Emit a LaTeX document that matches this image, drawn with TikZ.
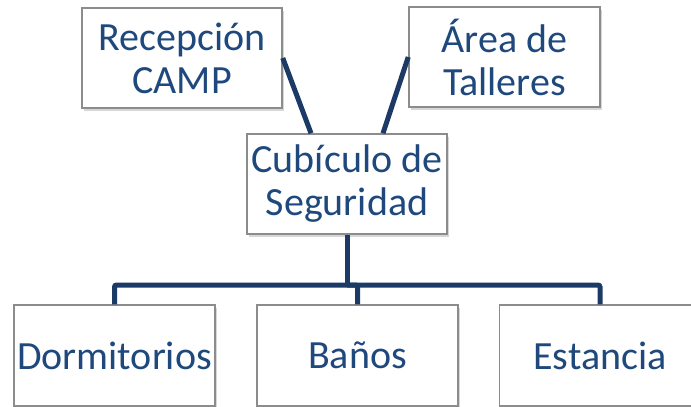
\documentclass[tikz,border=0pt]{standalone}
\usepackage{fontspec}
\setmainfont{Carlito}
\usetikzlibrary{shadows}
\definecolor{txtblue}{HTML}{1F497D}
\definecolor{linknavy}{HTML}{1C3A66}
\definecolor{boxgray}{HTML}{8C8C8C}

\begin{document}
\begin{tikzpicture}[x=1pt, y=-1pt, align=center,
	area/.style = {draw=boxgray, line width=1.5pt, fill=white, text=txtblue,
		minimum width=200pt, minimum height=100pt, inner sep=0pt,
		font=\fontsize{40}{43}\selectfont,
		drop shadow={shadow xshift=2pt, shadow yshift=-3pt, opacity=0.35, fill=black!45}},
	link/.style = {draw=linknavy, line width=5pt, rounded corners=2pt}]
	\useasboundingbox (0,0) rectangle (691,407);
	\node[area] (recep) at (182,58) {Recepción\\CAMP};
	\node[area, minimum width=191pt] (talleres) at (504.5,57) {Área de\\Talleres};
	\node[area] (cub) at (347,184) {Cubículo de\\Seguridad};
	\node[area, minimum width=201pt, minimum height=101pt] (dorm) at (114.5,355.5) {Dormitorios};
	\node[area, minimum width=201pt, minimum height=101pt] (banos) at (357.5,355.5) {Baños};
	\node[area, minimum width=201pt, minimum height=101pt] (estancia) at (600,355.5) {Estancia};
	\coordinate (bus) at (347,285);
	\draw[link] (recep.east) -- ([xshift=-36pt]cub.north);
	\draw[link] (talleres.west) -- ([xshift=36pt]cub.north);
	\draw[link] (cub.south) -- (bus);
	\draw[link] (bus) -| (dorm.north);
	\draw[link] (bus) -| (banos.north);
	\draw[link] (bus) -| (estancia.north);
\end{tikzpicture}
\end{document}
